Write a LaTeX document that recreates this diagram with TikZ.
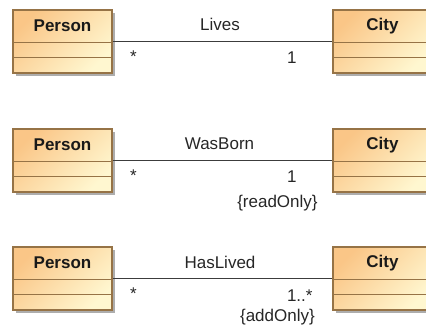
\documentclass[tikz,border=0pt]{standalone}
\usepackage{fontspec}
\setmainfont{Liberation Sans}
\usetikzlibrary{positioning,shadows}
\definecolor{boxorange}{RGB}{250,198,135}
\definecolor{boxyellow}{RGB}{255,247,208}
\definecolor{boxline}{RGB}{150,115,70}
\definecolor{assocgray}{RGB}{60,60,60}
\tikzset{
  classbox/.style={draw=boxline, line width=1.1pt, minimum width=99pt, minimum height=63pt, inner sep=0pt,
    left color=boxorange, right color=boxyellow, shading angle=45,
    drop shadow={shadow xshift=3pt, shadow yshift=-3pt, fill=black!32, opacity=1}},
  classname/.style={font=\bfseries\fontsize{17}{17}\selectfont, text=black!90},
  assocline/.style={draw=assocgray, line width=1.1pt},
  assoc/.style={font=\fontsize{17}{17}\selectfont, text=black!85, inner sep=0pt, anchor=base},
}
\begin{document}
\begin{tikzpicture}[x=1pt, y=-1pt]
    \useasboundingbox (0,0) rectangle (426,327);

    % classes
    \foreach \i/\y in {1/41.5, 2/160.5, 3/278.5} {
        \node[classbox] (p\i) at (62.5,\y) {};
        \node[classbox] (c\i) at (382.5,\y) {};
        \node[classname] (pn\i) at ([yshift=-16.5pt]p\i.north) {Person};
        \node[classname] (cn\i) at ([yshift=-16.5pt]c\i.north) {City};
        \foreach \b in {p\i, c\i} {
            \draw[boxline, line width=1.1pt] ([yshift=-33pt]\b.north west) -- ([yshift=-33pt]\b.north east);
            \draw[boxline, line width=1.1pt] ([yshift=-48pt]\b.north west) -- ([yshift=-48pt]\b.north east);
        }
    }

    % associations
    \draw[assocline] (p1) -- (c1)
        node[assoc, pos=0.5, xshift=-2.5pt, yshift=11pt] (lives) {Lives}
        node[assoc, pos=0, anchor=base west, xshift=17pt, yshift=-21pt] (ms1) {*}
        node[assoc, pos=1, anchor=base west, xshift=-46pt, yshift=-21.5pt] (mc1) {1};
    \draw[assocline] (p2) -- (c2)
        node[assoc, pos=0.5, xshift=-3pt, yshift=11pt] (wasborn) {WasBorn}
        node[assoc, pos=0, anchor=base west, xshift=17pt, yshift=-21pt] (ms2) {*}
        node[assoc, pos=1, anchor=base west, xshift=-46pt, yshift=-21.5pt] (mc2) {1}
        node[assoc, pos=1, xshift=-55pt, yshift=-47pt] (ro) {\{readOnly\}};
    \draw[assocline] (p3) -- (c3)
        node[assoc, pos=0.5, xshift=-2.5pt, yshift=10.5pt] (haslived) {HasLived}
        node[assoc, pos=0, anchor=base west, xshift=17pt, yshift=-21pt] (ms3) {*}
        node[assoc, pos=1, anchor=base west, xshift=-46pt, yshift=-22.5pt] (mc3) {1..*}
        node[assoc, pos=1, xshift=-55pt, yshift=-43pt] (ao) {\{addOnly\}};
\end{tikzpicture}
\end{document}
